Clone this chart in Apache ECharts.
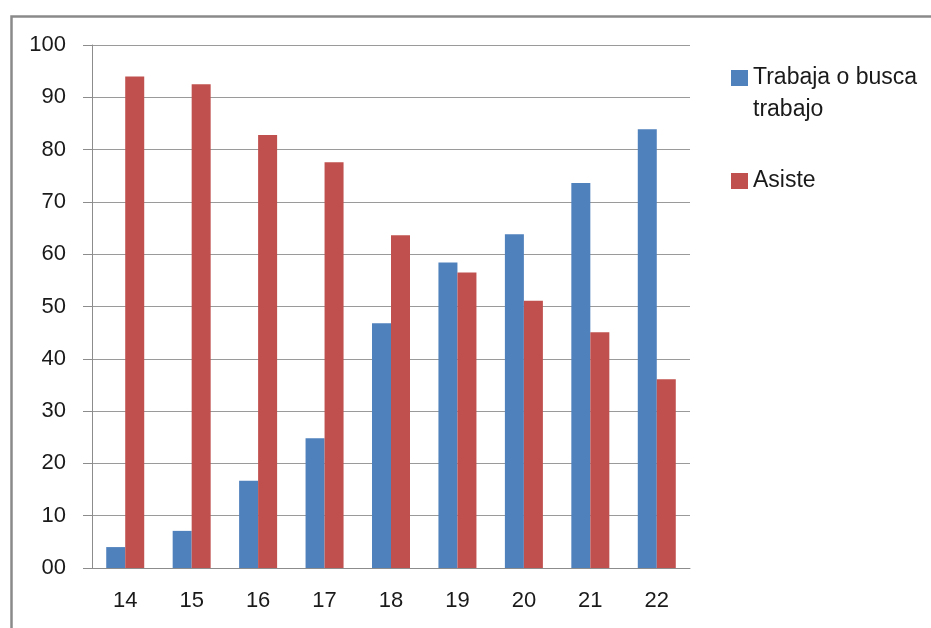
<!DOCTYPE html>
<html>
<head>
<meta charset="utf-8">
<script src="https://cdn.jsdelivr.net/npm/echarts@6/dist/echarts.min.js"></script>
<style>
  html, body { margin: 0; padding: 0; background: #fff; }
  #chart { width: 931px; height: 628px; }
</style>
</head>
<body>
<div id="chart"></div>
<script>
  // datos
  const edades = ['14', '15', '16', '17', '18', '19', '20', '21', '22']
  const trabaja = [4.0, 7.1, 16.7, 24.8, 46.8, 58.4, 63.8, 73.6, 83.9]
  const asiste = [94.0, 92.5, 82.8, 77.6, 63.6, 56.5, 51.1, 45.1, 36.1]
  const yTicks = ['00', '10', '20', '30', '40', '50', '60', '70', '80', '90', '100']

  const font = 'Liberation Sans'
  const chart = echarts.init(document.getElementById('chart'))

  chart.setOption({
    animation: false,
    textStyle: { fontFamily: font },
    color: ['#4f81bd', '#c0504d'],
    graphic: [{
      type: 'rect',
      left: 9,
      top: 14,
      shape: { width: 1000, height: 1000 },
      style: { fill: 'none', stroke: '#8a8a8a', lineWidth: 2.5 },
      silent: true
    }],
    grid: {
      left: 92,
      right: 241,
      top: 45,
      bottom: 60
    },
    legend: {
      orient: 'vertical',
      left: 731,
      top: 30,
      padding: 0,
      itemWidth: 17,
      itemHeight: 16,
      itemGap: 39,
      icon: 'rect',
      textStyle: { fontFamily: font, fontSize: 23, color: '#1a1a1a', lineHeight: 32 },
      data: ['Trabaja o busca trabajo', 'Asiste'],
      formatter (name) {
        // linea vacia arriba para que el icono quede junto a la primera linea
        return name === 'Trabaja o busca trabajo' ? ' \nTrabaja o busca\ntrabajo' : name
      }
    },
    xAxis: {
      type: 'category',
      data: edades,
      axisLine: { lineStyle: { color: '#8c8c8c', width: 1 } },
      axisTick: { length: 7, lineStyle: { color: '#8c8c8c' } },
      axisLabel: { color: '#1a1a1a', fontSize: 22, margin: 22 }
    },
    yAxis: {
      type: 'value',
      min: 0,
      max: 100,
      interval: 10,
      axisLine: { show: true, lineStyle: { color: '#8c8c8c', width: 1 } },
      axisTick: { show: true, length: 9, lineStyle: { color: '#8c8c8c' } },
      splitLine: { lineStyle: { color: '#9a9a9a', width: 1 } },
      axisLabel: {
        color: '#1a1a1a',
        fontSize: 22,
        margin: 26,
        formatter (value) {
          return yTicks[Math.round(value / 10)]
        }
      }
    },
    series: [
      {
        name: 'Trabaja o busca trabajo',
        type: 'bar',
        barWidth: 19,
        barGap: '0%',
        data: trabaja
      },
      {
        name: 'Asiste',
        type: 'bar',
        barWidth: 19,
        barGap: '0%',
        data: asiste
      }
    ]
  })
</script>
</body>
</html>
